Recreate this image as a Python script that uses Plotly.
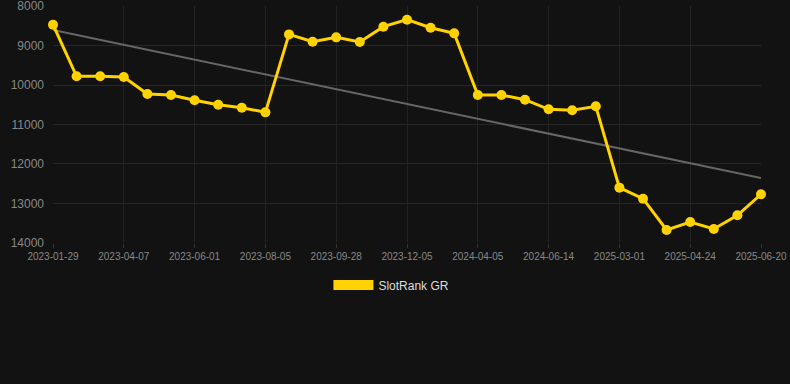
import numpy as np
import plotly.graph_objects as go

dates = [
    "2023-01-29", "2023-02-21", "2023-03-15", "2023-04-07", "2023-04-25", "2023-05-13",
    "2023-06-01", "2023-06-22", "2023-07-14", "2023-08-05", "2023-08-24", "2023-09-11",
    "2023-09-28", "2023-10-20", "2023-11-12", "2023-12-05", "2024-01-10", "2024-02-20",
    "2024-04-05", "2024-04-28", "2024-05-21", "2024-06-14", "2024-09-10", "2024-12-05",
    "2025-03-01", "2025-03-20", "2025-04-06", "2025-04-24", "2025-05-13", "2025-06-01",
    "2025-06-20",
]
ranks = [
    8473, 9780, 9780, 9797, 10228, 10253, 10388, 10498, 10574, 10692,
    8718, 8903, 8793, 8911, 8523, 8346, 8549, 8692, 10253, 10253,
    10372, 10616, 10641, 10540, 12599, 12878, 13671, 13468, 13646, 13299,
    12768,
]
tick_labels = dates[::3]
y_ticks = [8000, 9000, 10000, 11000, 12000, 13000, 14000]
series_name = "SlotRank GR"

idx = np.arange(len(ranks))
slope, intercept = np.polyfit(idx, ranks, 1)
trend = slope * idx + intercept

YELLOW = "#FFD200"
fig = go.Figure()
fig.add_trace(go.Scatter(
    x=dates, y=trend, mode="lines", line=dict(color="#666666", width=2),
    showlegend=False, hoverinfo="skip", cliponaxis=False,
))
fig.add_trace(go.Scatter(
    x=dates, y=ranks, mode="lines+markers", name=series_name,
    line=dict(color=YELLOW, width=3), marker=dict(size=10, color=YELLOW),
    showlegend=False, cliponaxis=False,
))
fig.add_trace(go.Scatter(
    x=[None], y=[None], mode="lines", name=series_name,
    line=dict(color=YELLOW, width=12), showlegend=True,
))

fig.update_layout(
    width=790, height=384,
    margin=dict(l=53, r=29, t=6, b=141, autoexpand=False),
    paper_bgcolor="#121212", plot_bgcolor="#121212",
    font=dict(family="Arial, Liberation Sans, sans-serif", color="#888888"),
    legend=dict(
        orientation="h", x=0.478, xanchor="center", y=-0.177, yanchor="middle",
        font=dict(size=12, color="#dddddd"), itemwidth=40,
        bgcolor="rgba(0,0,0,0)",
    ),
    xaxis=dict(
        type="category", categoryorder="array", categoryarray=dates,
        range=[0, len(dates) - 1], automargin=False,
        tickmode="array", tickvals=tick_labels, ticktext=tick_labels,
        tickfont=dict(size=10, color="#888888"),
        showgrid=True, gridcolor="#222222", zeroline=False,
        showline=False, ticks="outside", ticklen=4, tickcolor="#333333",
        ticklabeloverflow="allow",
    ),
    yaxis=dict(
        range=[14000.5, 7999.5], tickmode="array", tickvals=y_ticks,
        ticktext=[str(v) for v in y_ticks], automargin=False,
        tickfont=dict(size=12, color="#888888"),
        showgrid=True, gridcolor="#262626", zeroline=False, showline=False,
        ticks="", ticklabelstandoff=8, ticklabeloverflow="allow",
    ),
)

fig.write_html(
    "out.html",
    config={"displayModeBar": False},
    post_script="document.body.style.margin='0';",
)
